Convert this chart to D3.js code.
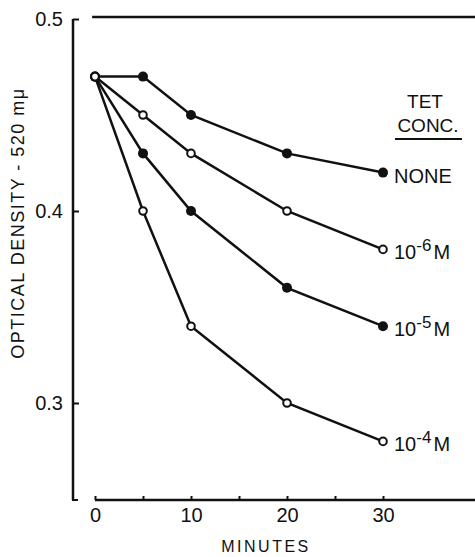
<!doctype html>
<html lang="en">
  <head>
    <meta charset="utf-8">
    <title>Optical density vs minutes</title>
    <script src="https://d3js.org/d3.v7.min.js"></script>
    <style>
    body { margin: 0; background: #fff; }
    text { font-family: "Liberation Sans", Arial, sans-serif; fill: #111; }
    .series line, .series path { stroke: #111; }
    </style>
  </head>
  <body>
    <svg width="475" height="557"></svg>
    <script>
      var minutes = [0, 5, 10, 20, 30];
      var seriesNames = ['NONE', '10-6 M', '10-5 M', '10-4 M'];
      var none = [0.47, 0.47, 0.45, 0.43, 0.42];
      var tet6 = [0.47, 0.45, 0.43, 0.40, 0.38];
      var tet5 = [0.47, 0.43, 0.40, 0.36, 0.34];
      var tet4 = [0.47, 0.40, 0.34, 0.30, 0.28];
      var filled = [true, false, true, false];
      var labelBase = ['NONE', '10', '10', '10'];
      var labelExp = ['', '-6', '-5', '-4'];
      var yTicks = [0.3, 0.4, 0.5];
      var xTicks = [0, 5, 10, 15, 20, 25, 30];

      var allSeries = [none, tet6, tet5, tet4];

      var svg = d3.select('svg');

      var x = d3.scaleLinear().domain([0, 30]).range([95, 383]);
      var y = d3.scaleLinear().domain([0.25, 0.5]).range([499, 19]);

      // y axis
      var yAxis = d3.axisLeft(y)
        .tickValues(yTicks)
        .tickFormat(d3.format('.1f'))
        .tickSize(-6)
        .tickPadding(10);

      var gy = svg.append('g')
        .attr('transform', 'translate(73, 0)')
        .call(yAxis);
      gy.select('.domain').remove();
      gy.selectAll('.tick line').attr('stroke', '#111').attr('stroke-width', 2);
      gy.selectAll('.tick text')
        .style('font-size', '20px');

      svg.append('line')
        .attr('x1', 73).attr('x2', 73)
        .attr('y1', y(0.5)).attr('y2', y(0.25) + 1)
        .attr('stroke', '#111').attr('stroke-width', 2.5);
      svg.append('line')
        .attr('x1', 72).attr('x2', 78)
        .attr('y1', y(0.25) + 1).attr('y2', y(0.25) + 1)
        .attr('stroke', '#111').attr('stroke-width', 2);

      // top rule at 0.5
      svg.append('line')
        .attr('x1', x(-0.3)).attr('x2', 475)
        .attr('y1', y(0.5) - 2).attr('y2', y(0.5) - 2)
        .attr('stroke', '#111').attr('stroke-width', 2.5);

      // x axis
      var xAxis = d3.axisBottom(x)
        .tickValues(xTicks)
        .tickFormat(function(d){ return d % 10 === 0 ? d : ''; })
        .tickSize(-4)
        .tickPadding(8);

      var gx = svg.append('g')
        .attr('transform', 'translate(0,' + (y(0.25) + 1) + ')')
        .call(xAxis);
      gx.select('.domain').remove();
      gx.selectAll('.tick line').attr('stroke', '#111').attr('stroke-width', 2);
      gx.selectAll('.tick text').style('font-size', '20px');

      svg.append('line')
        .attr('x1', x(0)).attr('x2', 475)
        .attr('y1', y(0.25) + 1).attr('y2', y(0.25) + 1)
        .attr('stroke', '#111').attr('stroke-width', 2.5);

      // axis titles
      svg.append('text')
        .attr('x', 266).attr('y', 552)
        .attr('text-anchor', 'middle')
        .style('font-size', '16px')
        .style('letter-spacing', '2.5px')
        .text('MINUTES');

      svg.append('text')
        .attr('transform', 'translate(24, 223) rotate(-90)')
        .attr('text-anchor', 'middle')
        .style('font-size', '18px')
        .style('letter-spacing', '1.5px')
        .text('OPTICAL  DENSITY - 520 mμ');

      // series
      var line = d3.line()
        .x(function(d, i){ return x(minutes[i]); })
        .y(function(d){ return y(d); });

      allSeries.forEach(function(vals, s) {
        var g = svg.append('g').attr('class', 'series');
        g.append('path')
          .datum(vals)
          .attr('d', line)
          .attr('fill', 'none')
          .attr('stroke-width', 2.5);

        g.selectAll('circle').data(vals)
          .enter()
            .append('circle')
            .attr('cx', function(d, i){ return x(minutes[i]); })
            .attr('cy', function(d){ return y(d); })
            .attr('r', filled[s] ? 5 : 3.8)
            .attr('fill', filled[s] ? '#111' : '#fff')
            .attr('stroke', '#111')
            .attr('stroke-width', filled[s] ? 0 : 2);

        var last = vals[vals.length - 1];
        var t = g.append('text')
          .attr('x', x(30) + 11)
          .attr('y', y(last) + 10)
          .style('font-size', '20px');
        t.append('tspan').text(labelBase[s]);
        if (labelExp[s]) {
          t.append('tspan')
            .attr('dy', -8)
            .style('font-size', '17px')
            .text(labelExp[s]);
          t.append('tspan')
            .attr('dy', 8)
            .attr('dx', 2)
            .text('M');
        }
      });

      // legend heading
      svg.append('text')
        .attr('x', 425).attr('y', 108)
        .attr('text-anchor', 'middle')
        .style('font-size', '19px')
        .text('TET');
      svg.append('text')
        .attr('x', 428).attr('y', 132)
        .attr('text-anchor', 'middle')
        .style('font-size', '19px')
        .text('CONC.');
      svg.append('line')
        .attr('x1', 395).attr('x2', 462)
        .attr('y1', 139).attr('y2', 139)
        .attr('stroke', '#111').attr('stroke-width', 2);
    </script>
  </body>
</html>
